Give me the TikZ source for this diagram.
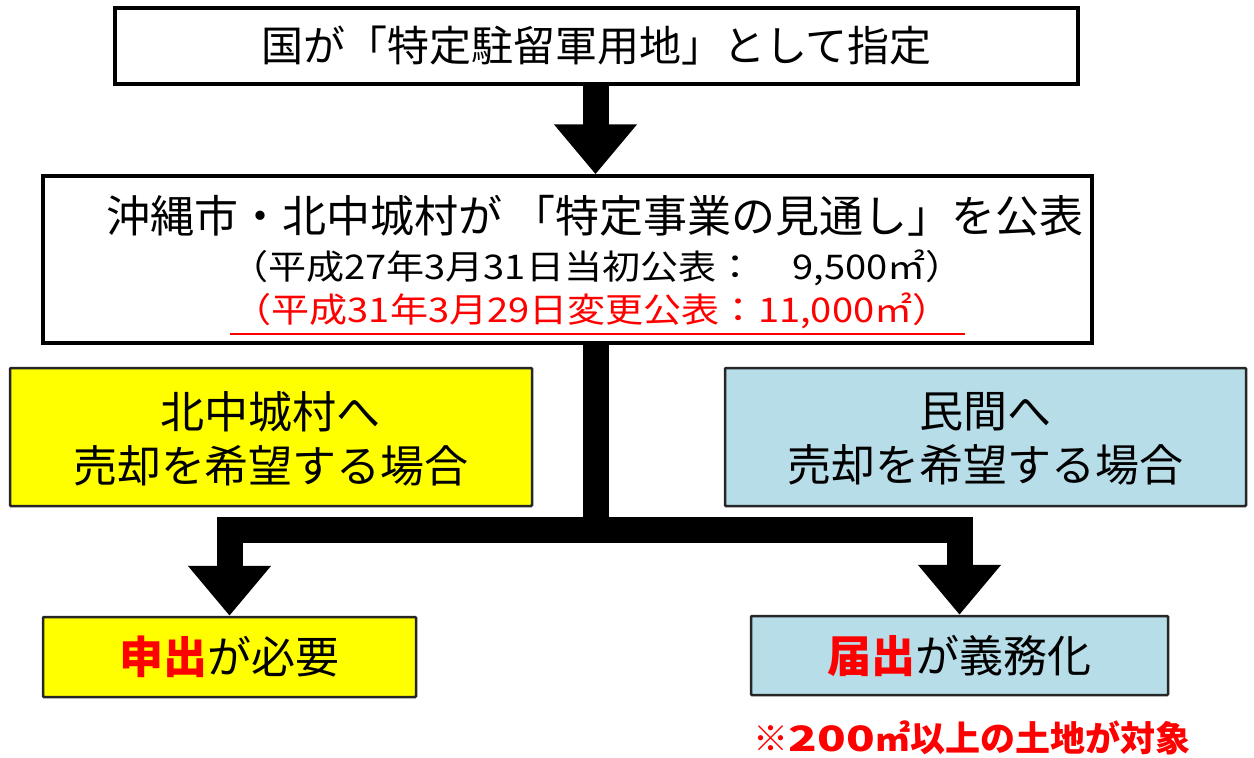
\documentclass[tikz,border=0pt]{standalone}
\usepackage{fontspec}
\setmainfont{Noto Sans CJK JP}
\usetikzlibrary{arrows.meta}
\definecolor{boxyellow}{RGB}{255,255,0}
\definecolor{boxblue}{RGB}{183,221,232}
\definecolor{jred}{RGB}{255,0,0}
\begin{document}
\begin{tikzpicture}[x=1pt,y=-1pt,
  mainbox/.style={draw=black,line width=3.5pt,fill=white,inner sep=0pt},
  ybox/.style={draw=black!85,line width=2.5pt,fill=boxyellow,inner sep=0pt,rounded corners=1pt},
  bbox/.style={draw=black!85,line width=2.5pt,fill=boxblue,inner sep=0pt,rounded corners=1pt},
  big/.style={font=\fontsize{42}{50}\selectfont},
  bigger/.style={font=\fontsize{44}{50}\selectfont},
  mid/.style={font=\fontsize{44}{54}\selectfont},
  small/.style={font=\fontsize{34}{40}\selectfont},
  shaft/.style={line width=26pt},
  conn/.style={line width=26pt,-{Triangle[length=50pt,width=80pt]}},
  txt/.style={inner sep=0pt,anchor=center}]
\useasboundingbox (0,0) rectangle (1254,758);

% boxes
\node[mainbox,minimum width=963pt,minimum height=76pt] (b1) at (596.5,46) {};
\node[txt,big] (t1) at (596.5,46) {国が「特定駐留軍用地」として指定};

\node[mainbox,minimum width=1049pt,minimum height=167pt] (b2) at (567.5,259.5) {};
\node[txt,bigger] (t2a) at (595,216) {沖縄市・北中城村が 「特定事業の見通し」を公表};
\node[txt,small] (t2b) at (597,268) {\scalebox{1.12}[1]{（平成27年3月31日当初公表：　9,500㎡）}};
\node[txt,small,text=jred] (t2c) at (592,311) {\scalebox{1.12}[1]{（平成31年3月29日変更公表：11,000㎡）}};
\draw[jred,line width=2pt] ([xshift=-3pt,yshift=-5pt]t2c.south west) -- ([xshift=14pt,yshift=-5pt]t2c.south east);

\node[ybox,minimum width=522pt,minimum height=138pt] (b3) at (271,437) {};
\node[txt,mid,align=center] (t3) at (271,439) {北中城村へ\\売却を希望する場合};

\node[bbox,minimum width=521pt,minimum height=138pt] (b4) at (985.5,437) {};
\node[txt,mid,align=center] (t4) at (985.5,439) {民間へ\\売却を希望する場合};

\node[ybox,minimum width=373pt,minimum height=80pt] (b5) at (229.5,657) {};
\node[txt,mid] (t5) at (229.5,657) {\textcolor{jred}{\bfseries 申出}が必要};

\node[bbox,minimum width=417pt,minimum height=79pt] (b6) at (959.5,655.5) {};
\node[txt,mid] (t6) at (959.5,655.5) {\textcolor{jred}{\bfseries 届出}が義務化};

\node[txt,font=\fontsize{35}{40}\selectfont\bfseries,text=jred] (note) at (972,738) {※\scalebox{1.35}[1]{200}㎡以上の土地が対象};

% connectors
\coordinate (j) at (595.5,530);
\draw[conn] (b1.south -| j) -- (b2.north -| j);
\draw[shaft,shorten >=-13pt] (b2.south -| j) -- (j);
\draw[conn] (j) -| (b5.north);
\draw[conn] (j) -| (b6.north);
\end{tikzpicture}
\end{document}
